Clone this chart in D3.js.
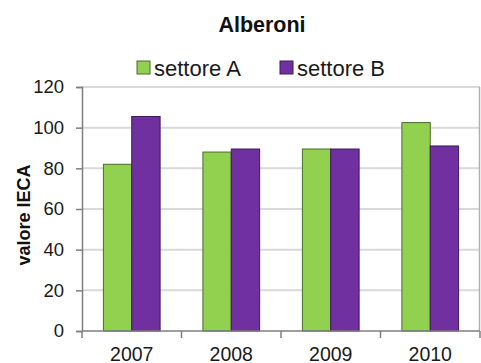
<!DOCTYPE html>
<html>
<head>
<meta charset="utf-8">
<script src="https://cdn.jsdelivr.net/npm/d3@7"></script>
<style>
  html, body { margin: 0; padding: 0; background: #fff; }
  svg { display: block; font-family: "Liberation Sans", Arial, sans-serif; }
</style>
</head>
<body>
<svg id="chart" width="481" height="363"></svg>
<script>
// Data
const years = ["2007", "2008", "2009", "2010"];
const seriesNames = ["settore A", "settore B"];
const settoreA = [82, 88, 89.5, 102.5];
const settoreB = [105.5, 89.5, 89.5, 91];
const yTicks = [0, 20, 40, 60, 80, 100, 120];
const colors = ["#92d050", "#7030a0"];
const strokes = ["#4d6b2e", "#3c1a5a"];

const svg = d3.select("#chart");
const plot = { left: 82, right: 480, top: 87, bottom: 331 };

const x = d3.scaleBand().domain(years).range([plot.left, plot.right]).padding(0);
const x1 = d3.scaleBand().domain(seriesNames)
  .range([x.bandwidth() * 0.215, x.bandwidth() * 0.785]).padding(0);
const y = d3.scaleLinear().domain([0, 120]).range([plot.bottom, plot.top]);

// Gridlines
svg.append("g").selectAll("line").data(yTicks.filter(d => d > 0)).join("line")
  .attr("x1", plot.left).attr("x2", plot.right)
  .attr("y1", d => y(d)).attr("y2", d => y(d))
  .attr("stroke", "#d9d9d9").attr("stroke-width", 2);

// Right border of the plot area
svg.append("line")
  .attr("x1", plot.right - 0.5).attr("x2", plot.right - 0.5)
  .attr("y1", plot.top).attr("y2", plot.bottom)
  .attr("stroke", "#b0b0b0").attr("stroke-width", 1.5);

// Bars
const rows = years.map((yr, i) => ({ yr, vals: [settoreA[i], settoreB[i]] }));
const groups = svg.append("g").selectAll("g").data(rows).join("g")
  .attr("transform", d => `translate(${x(d.yr)},0)`);
groups.selectAll("rect").data(d => d.vals.map((v, j) => ({ v, j }))).join("rect")
  .attr("x", d => x1(seriesNames[d.j]))
  .attr("width", x1.bandwidth())
  .attr("y", d => y(d.v))
  .attr("height", d => y(0) - y(d.v))
  .attr("fill", d => colors[d.j])
  .attr("stroke", d => strokes[d.j])
  .attr("stroke-width", 1);

// Y axis
const yAxis = d3.axisLeft(y).tickValues(yTicks).tickSize(6).tickPadding(12);
const gy = svg.append("g").attr("transform", `translate(${plot.left},0)`).call(yAxis);
gy.select(".domain").attr("stroke", "#7f7f7f").attr("stroke-width", 1.5);
gy.selectAll(".tick line").attr("stroke", "#7f7f7f").attr("stroke-width", 1.5);
gy.selectAll(".tick text")
  .attr("font-size", 18.5).attr("fill", "#1a1a1a").attr("font-family", "Liberation Sans, Arial, sans-serif");

// X axis with ticks at category boundaries
const gx = svg.append("g").attr("transform", `translate(0,${plot.bottom})`);
gx.append("line").attr("x1", plot.left).attr("x2", plot.right)
  .attr("stroke", "#7f7f7f").attr("stroke-width", 1.5);
const bounds = years.map(d => x(d)).concat([plot.right]);
gx.selectAll("line.tk").data(bounds).join("line").attr("class", "tk")
  .attr("x1", d => d).attr("x2", d => d).attr("y1", 0).attr("y2", 7)
  .attr("stroke", "#7f7f7f").attr("stroke-width", 1.5);
gx.selectAll("text").data(years).join("text")
  .attr("x", d => x(d) + x.bandwidth() / 2)
  .attr("y", 29.5)
  .attr("text-anchor", "middle")
  .attr("font-size", 19.5).attr("fill", "#1a1a1a")
  .text(d => d);

// Y axis title
svg.append("text")
  .attr("transform", "translate(30,215) rotate(-90)")
  .attr("text-anchor", "middle")
  .attr("font-size", 18).attr("font-weight", "bold").attr("fill", "#111")
  .text("valore IECA");

// Title
svg.append("text")
  .attr("x", 262).attr("y", 31.5)
  .attr("text-anchor", "middle")
  .attr("font-size", 21.5).attr("font-weight", "bold").attr("fill", "#111")
  .text("Alberoni");

// Legend
const legendX = [137, 280];
const lg = svg.append("g").selectAll("g").data(seriesNames).join("g")
  .attr("transform", (d, i) => `translate(${legendX[i]},61)`);
lg.append("rect").attr("width", 13).attr("height", 13)
  .attr("fill", (d, i) => colors[i]).attr("stroke", (d, i) => strokes[i]).attr("stroke-width", 1);
lg.append("text").attr("x", 17).attr("y", 14.5)
  .attr("font-size", 22).attr("fill", "#1a1a1a")
  .text(d => d);
</script>
</body>
</html>
